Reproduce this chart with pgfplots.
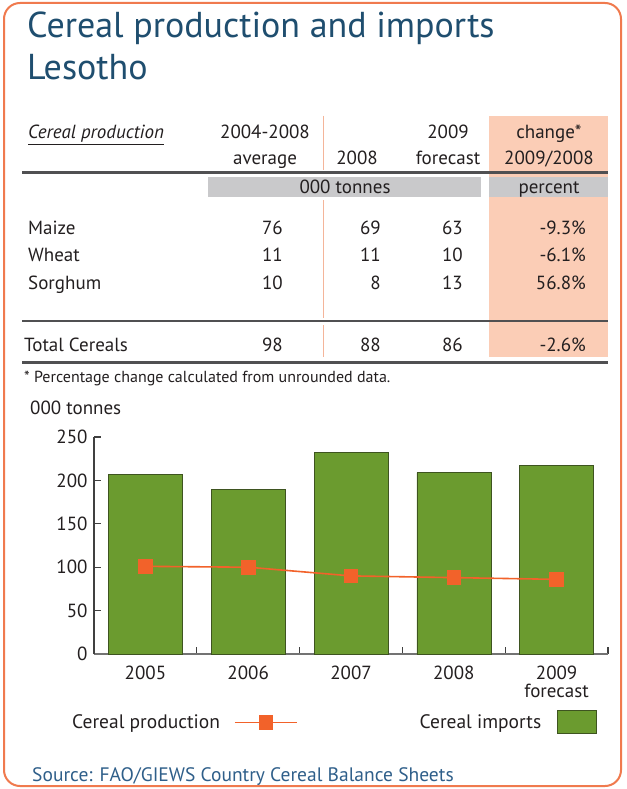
\documentclass[border=0pt]{standalone}
\usepackage{fontspec}
\setmainfont{PT Sans}
\usepackage{pgfplots}
\pgfplotsset{compat=1.18}
\definecolor{titleblue}{HTML}{1F4E6F}
\definecolor{srcblue}{HTML}{2F5F8A}
\definecolor{frameor}{HTML}{F07A4E}
\definecolor{peach}{HTML}{FBCDB6}
\definecolor{band}{HTML}{C9C9CB}
\definecolor{rulec}{HTML}{505052}
\definecolor{vlinec}{HTML}{F4B59A}
\definecolor{barg}{HTML}{6B9B2F}
\definecolor{bard}{HTML}{3E5420}
\definecolor{prod}{HTML}{F2622A}
\definecolor{txt}{HTML}{231F20}
\newcommand{\bodyf}{\fontsize{19}{20}\selectfont}
\begin{document}
\begin{tikzpicture}[x=1pt,y=-1pt]
\useasboundingbox (0,0) rectangle (626,789);
\fill[white] (0,0) rectangle (626,789);
\draw[frameor, line width=2pt, rounded corners=16pt] (4,3) rectangle (621,786);
% titles
\node[anchor=base west, inner sep=0, text=titleblue, font=\fontsize{36}{40}\selectfont] at (27,38) {Cereal production and imports};
\node[anchor=base west, inner sep=0, text=titleblue, font=\fontsize{36}{40}\selectfont] at (27,80) {Lesotho};
% table backgrounds
\fill[peach] (489,116) rectangle (608,357);
\fill[band] (208,177) rectangle (481,197);
\fill[band] (489,177) rectangle (608,197);
\draw[vlinec, line width=1pt] (323,116) -- (323,170);
\draw[vlinec, line width=1pt] (323,200) -- (323,318);
\draw[vlinec, line width=1pt] (323,325) -- (323,357);
\draw[rulec, line width=3pt] (22,172) -- (608,172);
\draw[rulec, line width=2.5pt] (22,321) -- (608,321);
\draw[rulec, line width=3pt] (22,362) -- (608,362);
\begin{scope}[every node/.style={inner sep=0, text=txt, font=\bodyf}]
% header
\node[anchor=base west] at (28,139) {\underline{\textit{Cereal production}}};
\node[anchor=base] at (265,139) {2004-2008};
\node[anchor=base] at (265,164) {average};
\node[anchor=base] at (357,164) {2008};
\node[anchor=base] at (448,139) {2009};
\node[anchor=base] at (448,164) {forecast};
\node[anchor=base] at (549,139) {change*};
\node[anchor=base] at (549,164) {2009/2008};
\node[anchor=base] at (345,193) {000 tonnes};
\node[anchor=base] at (549,193) {percent};
% rows
\node[anchor=base west] at (28,234) {Maize};
\node[anchor=base east] at (283,234) {76};
\node[anchor=base east] at (381,234) {69};
\node[anchor=base east] at (463,234) {63};
\node[anchor=base east] at (586,234) {-9.3\%};
\node[anchor=base west] at (28,261) {Wheat};
\node[anchor=base east] at (283,261) {11};
\node[anchor=base east] at (381,261) {11};
\node[anchor=base east] at (463,261) {10};
\node[anchor=base east] at (586,261) {-6.1\%};
\node[anchor=base west] at (28,289) {Sorghum};
\node[anchor=base east] at (283,289) {10};
\node[anchor=base east] at (381,289) {8};
\node[anchor=base east] at (463,289) {13};
\node[anchor=base east] at (586,289) {56.8\%};
\node[anchor=base west] at (24,351) {Total Cereals};
\node[anchor=base east] at (283,351) {98};
\node[anchor=base east] at (381,351) {88};
\node[anchor=base east] at (463,351) {86};
\node[anchor=base east] at (586,351) {-2.6\%};
\node[anchor=base west, font=\fontsize{16}{17}\selectfont] at (24,382) {* Percentage change calculated from unrounded data.};
\node[anchor=base west] at (30,414) {000 tonnes};
\node[anchor=base west, text=srcblue, font=\fontsize{19.5}{22}\selectfont] at (32,781) {Source: FAO/GIEWS Country Cereal Balance Sheets};
\end{scope}
\begin{axis}[
  at={(94pt,-654pt)}, anchor=south west,
  scale only axis, width=514pt, height=217pt,
  xmin=-0.5, xmax=4.5, ymin=0, ymax=250,
  axis x line*=bottom, axis y line*=left,
  x axis line style={line width=1.8pt, black!55, -},
  y axis line style={line width=1.3pt, black!75, -},
  ytick={0,50,...,250},
  tick align=inside,
  major tick length=7pt,
  tick style={line width=1.2pt, black!75},
  xtick={0.5,1.5,2.5,3.5,4.5},
  xticklabels={},
  extra x ticks={0,1,2,3,4},
  extra x tick labels={2005,2006,2007,2008,{2009\\forecast}},
  extra x tick style={tick style={draw=none}, xticklabel style={align=center, font=\fontsize{19}{18.5}\selectfont, text=txt, yshift=-8pt}},
  yticklabel style={font=\bodyf, text=txt, xshift=-3pt},
  /pgf/number format/assume math mode=true,
  legend columns=2,
  legend plot pos=right,
  reverse legend,
  legend style={at={(0.466,-0.313)}, anchor=center, draw=none, fill=none,
    font=\fontsize{19.5}{20}\selectfont, text=txt, /tikz/every even column/.append style={column sep=120pt}},
]
\addplot[ybar, bar width=74pt, fill=barg, draw=bard, line width=0.6pt,
  legend image code/.code={\path (0pt,0pt); \draw[fill=barg, draw=bard, line width=0.6pt] (14pt,-11pt) rectangle (53pt,12pt);}]
  coordinates {(0,207) (1,190) (2,232) (3,209) (4,217)};
\addlegendentry{Cereal imports}
\addplot[prod, line width=1.6pt, mark=square*, mark size=6.5pt, mark options={fill=prod, draw=prod},
  legend image code/.code={\path (0pt,0pt); \draw[prod, line width=1.6pt] (12pt,0pt) -- (74pt,0pt); \fill[prod] (36.5pt,-6.5pt) rectangle (49.5pt,6.5pt);}]
  coordinates {(0,101) (1,100) (2,90) (3,88) (4,86)};
\addlegendentry{Cereal production}
\end{axis}
\end{tikzpicture}
\end{document}
